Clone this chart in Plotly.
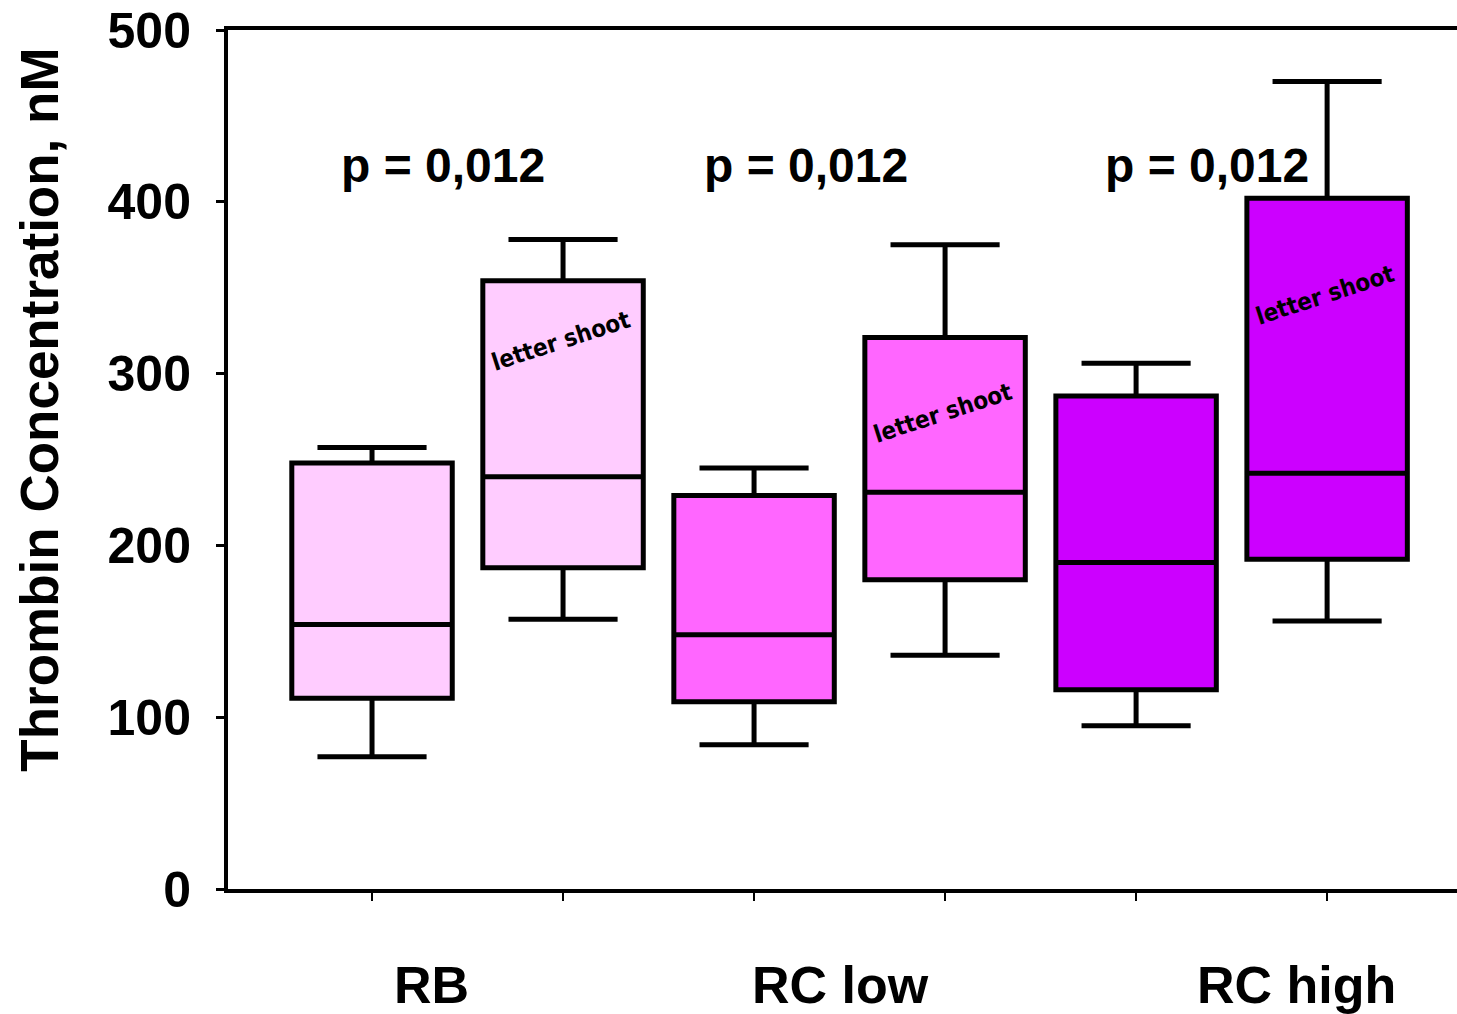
import plotly.graph_objects as go

# Data
positions = [1, 2, 3, 4, 5, 6]
lower = [77, 157, 84, 136, 95, 156]
q1 = [111, 187, 109, 180, 116, 192]
median = [154, 240, 148, 231, 190, 242]
q3 = [248, 354, 229, 321, 287, 402]
upper = [257, 378, 245, 375, 306, 470]
colors = ["#FFCCFF", "#FFCCFF", "#FF66FF", "#FF66FF", "#CC00FF", "#CC00FF"]

groups = ["RB", "RC low", "RC high"]
group_label_x = [1.31, 3.45, 5.84]
p_texts = ["p = 0,012", "p = 0,012", "p = 0,012"]
p_x = [1.37, 3.27, 5.37]
p_y = 421
note_text = "letter shoot"
note_x = [1.99, 3.99, 5.99]
note_y = [319, 277, 346]

FONT = "Liberation Sans, Arial, sans-serif"

fig = go.Figure()
for i, x in enumerate(positions):
    fig.add_trace(go.Box(
        x=[x], q1=[q1[i]], median=[median[i]], q3=[q3[i]],
        lowerfence=[lower[i]], upperfence=[upper[i]],
        fillcolor=colors[i],
        line=dict(color="black", width=5),
        width=0.84, whiskerwidth=0.68,
        boxpoints=False, showlegend=False, hoverinfo="skip",
    ))

annotations = []
for gx, g in zip(group_label_x, groups):
    annotations.append(dict(x=gx, y=-0.112, xref="x", yref="paper", text="<b>%s</b>" % g,
                            showarrow=False, font=dict(family=FONT, size=52, color="black"),
                            xanchor="center", yanchor="middle"))
for px, t in zip(p_x, p_texts):
    annotations.append(dict(x=px, y=p_y, xref="x", yref="y", text="<b>%s</b>" % t,
                            showarrow=False, font=dict(family=FONT, size=48, color="black"),
                            xanchor="center", yanchor="middle"))
for nx, ny in zip(note_x, note_y):
    annotations.append(dict(x=nx, y=ny, xref="x", yref="y", text="<b>%s</b>" % note_text,
                            showarrow=False, textangle=-18,
                            font=dict(family="DejaVu Sans Condensed, Liberation Sans Narrow, " + FONT,
                                      size=24, color="black"),
                            xanchor="center", yanchor="middle"))
annotations.append(dict(x=(40 - 228) / (1457 - 228), y=0.558, xref="paper", yref="paper",
                        text="<b>Thrombin Concentration, nM</b>",
                        showarrow=False, textangle=-90,
                        font=dict(family=FONT, size=53, color="black"),
                        xanchor="center", yanchor="middle"))

fig.update_layout(
    width=1457, height=1014,
    margin=dict(l=228, r=0, t=30, b=125),
    paper_bgcolor="white", plot_bgcolor="white",
    boxgap=0, boxgroupgap=0,
    xaxis=dict(range=[0.246, 6.68], tickvals=positions, ticktext=[""] * 6,
               showgrid=False, zeroline=False, showline=True, linecolor="black", linewidth=4,
               mirror=True, ticks="outside", ticklen=8, tickwidth=2, tickcolor="black"),
    yaxis=dict(range=[0, 500], tickvals=[0, 100, 200, 300, 400, 500],
               showgrid=False, zeroline=False, showline=True, linecolor="black", linewidth=4,
               ticks="outside", ticklen=8, tickwidth=3, tickcolor="black",
               tickfont=dict(family=FONT, size=50, color="black", weight="bold"),
               ticklabelstandoff=15),
    annotations=annotations,
    font=dict(family=FONT),
)

fig.write_html("out.html")
